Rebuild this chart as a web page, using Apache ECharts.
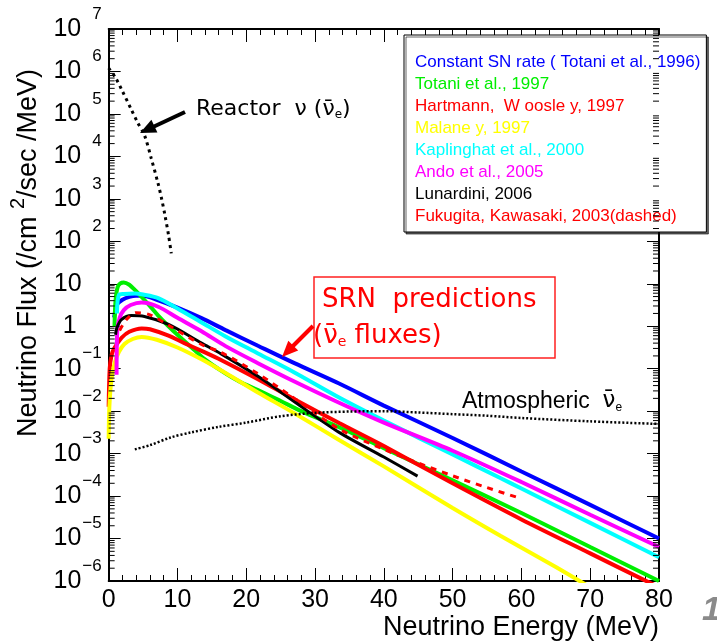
<!DOCTYPE html>
<html>
<head>
    <meta charset="UTF-8">
    <title>SRN flux</title>
    <style>
        body,
        html {
            width: 100%;
            height: 100%;
            margin: 0;
            padding: 0;
            background: #fff;
        }
        #myChart {
            width: 717px;
            height: 641px;
        }
    </style>
    <script src="https://cdn.jsdelivr.net/npm/echarts@6/dist/echarts.min.js"></script>
</head>
<body>
    <div id="myChart"></div>
    <script>

        let fontFamily = '"Liberation Sans", Arial, sans-serif';
        let dejavu = '"DejaVu Sans", sans-serif';

        // 能量 (MeV) / 通量 (/cm^2/sec/MeV)
        let constSnE = [0.8, 1.2, 2, 3, 4, 5, 7, 10, 13.5, 17, 21.7, 27, 33.5, 40, 50, 60, 70, 80];
        let constSnFlux = [1.6, 3.2, 4.2, 4.9, 5.2, 5.2, 4.2, 2.75, 1.55, 0.81, 0.347, 0.135, 0.0447, 0.0135, 2.34e-3, 3.8e-4, 6.2e-5, 1.0e-5];

        let totaniE = [0.85, 1.0, 1.3, 1.7, 2.2, 3, 3.8, 5, 6.2, 7.2, 8.7, 10, 12, 14, 16.4, 19, 21.7, 25, 28, 33.5, 40, 50, 60, 70, 80];
        let totaniFlux = [1.0, 4.0, 8.3, 10.2, 10.7, 9.5, 7.2, 4.5, 2.75, 1.78, 1.0, 0.63, 0.32, 0.166, 0.089, 0.05, 0.0316, 0.0174, 0.01, 4.17e-3, 1.35e-3, 2.34e-4, 3.98e-5, 6.3e-6, 1.0e-6];

        let hartmannE = [0, 0.15, 0.4, 0.7, 1.2, 1.9, 3, 4.8, 6, 8.7, 11, 13.5, 16.4, 21.7, 27, 33.5, 40, 50, 60, 70, 80];
        let hartmannFlux = [0.0126, 0.1, 0.2, 0.28, 0.38, 0.54, 0.74, 0.89, 0.85, 0.6, 0.4, 0.263, 0.158, 0.0562, 0.0191, 5.25e-3, 1.51e-3, 2.0e-4, 2.82e-5, 4.47e-6, 7.1e-7];

        let malaneyE = [0, 0.1, 0.4, 0.9, 1.5, 2.3, 3.5, 4.8, 7, 10, 13.5, 17, 21.7, 27, 33.5, 40, 50, 57, 65, 70];
        let malaneyFlux = [2.24e-3, 0.0126, 0.056, 0.141, 0.25, 0.38, 0.5, 0.56, 0.48, 0.316, 0.166, 0.079, 0.0275, 8.9e-3, 2.09e-3, 5.0e-4, 5.25e-5, 1.15e-5, 2.14e-6, 7.1e-7];

        let kaplinghatE = [1.2, 1.5, 2.2, 3.8, 5, 7.2, 10, 13.5, 17, 21.7, 27, 33.5, 40, 50, 57, 60, 70, 80];
        let kaplinghatFlux = [2.0, 5.5, 5.75, 5.9, 5.6, 4.6, 2.63, 1.23, 0.575, 0.229, 0.0813, 0.0209, 6.0e-3, 9.5e-4, 2.63e-4, 1.51e-4, 2.34e-5, 3.63e-6];

        let andoE = [1.15, 1.25, 1.6, 2.2, 3.2, 4.8, 7.2, 10, 13.5, 17, 21.7, 27, 33.5, 40, 50, 60, 70, 80];
        let andoFlux = [0.072, 0.79, 1.58, 2.4, 3.16, 3.63, 2.88, 1.58, 0.76, 0.34, 0.135, 0.05, 0.0158, 5.37e-3, 1.17e-3, 2.14e-4, 3.63e-5, 6.3e-6];

        let lunardiniE = [1.0, 1.2, 1.9, 3.3, 5.2, 8.7, 13.5, 16.4, 21.7, 27, 33.5, 40, 44.9];
        let lunardiniFlux = [0.63, 0.93, 1.45, 1.78, 1.7, 1.1, 0.4, 0.22, 0.066, 0.0166, 3.16e-3, 8.3e-4, 2.95e-4];

        let fukugitaE = [1.6, 2.6, 4, 6, 8.7, 13.5, 16.4, 21.7, 27, 33.5, 40, 45, 50, 55, 60];
        let fukugitaFlux = [0.79, 1.45, 2.09, 1.86, 1.05, 0.372, 0.24, 0.076, 0.02, 3.8e-3, 1.26e-3, 6.0e-4, 3.0e-4, 1.58e-4, 8.7e-5];

        let reactorE = [0, 1, 1.9, 3.3, 4.2, 5.2, 6.2, 7.2, 7.7, 8.2, 8.7, 9.1];
        let reactorFlux = [1.2e6, 7.1e5, 3.7e5, 1.26e5, 6.3e4, 3.16e4, 8.9e3, 2.24e3, 1.0e3, 398, 141, 52];

        let atmE = [3.8, 6, 9, 12, 16, 20, 25, 30, 35, 40, 45, 50, 55, 60, 70, 80];
        let atmFlux = [1.26e-3, 1.58e-3, 2.4e-3, 3.16e-3, 4.27e-3, 5.37e-3, 7.6e-3, 9.1e-3, 9.8e-3, 0.01, 9.3e-3, 8.5e-3, 7.8e-3, 6.9e-3, 5.75e-3, 5.0e-3];

        // 图例
        let legendNames = [
            'Constant SN rate ( Totani et al., 1996)',
            'Totani et al., 1997',
            'Hartmann,  W oosle y, 1997',
            'Malane y, 1997',
            'Kaplinghat et al., 2000',
            'Ando et al., 2005',
            'Lunardini, 2006',
            'Fukugita, Kawasaki, 2003(dashed)'
        ];
        let legendColors = ['#0000ff', '#00ee00', '#ff0000', '#ffff00', '#00ffff', '#ff00ff', '#000000', '#ff0000'];

        // 轴范围
        let xMin = 0, xMax = 80, xStep = 10;
        let yMin = 1e-6, yMax = 1e7;

        function pairs(xs, ys) {
            return xs.map((x, i) => [x, ys[i]]);
        }

        function curve(name, xs, ys, color, width, dash, smooth) {
            return {
                type: 'line',
                name: name,
                data: pairs(xs, ys),
                showSymbol: false,
                symbol: 'none',
                smooth: smooth,
                lineStyle: { color: color, width: width, type: dash || 'solid' },
                itemStyle: { color: color },
                z: 3
            };
        }

        // log 轴副刻度 2..9
        let minorTickVals = [];
        for (let n = -6; n < 7; n++) {
            for (let k = 2; k < 10; k++) {
                minorTickVals.push([0, k * Math.pow(10, n)]);
            }
        }

        function logLabel(v) {
            let n = Math.round(Math.log10(v));
            if (n === 0) return '{one|1}';
            if (n === 1) return '{ten|10}';
            if (n > 0) return '{b|10}{sp|' + n + '}';
            return '{b|10}{sn|\u2212' + (-n) + '}';
        }

        let myEcharts = echarts.init(document.querySelector('#myChart'));

        let axisLine = { show: true, onZero: false, lineStyle: { color: '#000', width: 2 } };

        let option = {
            animation: false,
            backgroundColor: '#fff',
            grid: { left: 107, right: 58, top: 29, bottom: 59, containLabel: false },
            legend: {
                orient: 'vertical',
                left: 404,
                top: 35,
                padding: [19, 6, 7, 5],
                itemGap: 5,
                itemWidth: 0,
                itemHeight: 0,
                itemStyle: { opacity: 0 },
                lineStyle: { opacity: 0 },
                selectedMode: false,
                backgroundColor: '#fff',
                borderColor: '#000',
                borderWidth: 1,
                shadowColor: 'rgba(0,0,0,0.6)',
                shadowOffsetX: 2,
                shadowOffsetY: 2,
                textStyle: { fontSize: 17, lineHeight: 16.5, fontFamily: fontFamily },
                data: legendNames.map((n, i) => ({ name: n, textStyle: { color: legendColors[i] } }))
            },
            xAxis: [{
                type: 'value',
                min: xMin,
                max: xMax,
                interval: xStep,
                name: 'Neutrino Energy (MeV)',
                nameLocation: 'end',
                nameGap: 0,
                nameTextStyle: {
                    fontSize: 27, fontFamily: fontFamily, color: '#000',
                    align: 'right', verticalAlign: 'top', padding: [33, 0, 0, 0]
                },
                axisLine: axisLine,
                axisTick: { inside: true, length: 13, lineStyle: { color: '#000', width: 1 } },
                minorTick: { show: true, splitNumber: 5, length: 6, lineStyle: { color: '#000', width: 1 } },
                axisLabel: { fontSize: 25, fontFamily: fontFamily, color: '#000', margin: 7 },
                splitLine: { show: false }
            }, {
                type: 'value',
                position: 'top',
                min: xMin,
                max: xMax,
                interval: xStep,
                axisLine: axisLine,
                axisTick: { inside: true, length: 13, lineStyle: { color: '#000', width: 1 } },
                minorTick: { show: true, splitNumber: 5, length: 6, lineStyle: { color: '#000', width: 1 } },
                axisLabel: { show: false },
                splitLine: { show: false }
            }],
            yAxis: [{
                type: 'log',
                logBase: 10,
                min: yMin,
                max: yMax,
                interval: 1,
                name: '{a|Neutrino Flux (/cm }{s|2}{a|/sec /MeV)}',
                nameLocation: 'middle',
                nameRotate: 90,
                nameGap: 50,
                nameTextStyle: {
                    padding: [0, 0, 0, 104],
                    rich: {
                        a: { fontSize: 27, fontFamily: fontFamily, color: '#000' },
                        s: { fontSize: 20, fontFamily: fontFamily, color: '#000', padding: [0, 0, 22, 0] }
                    }
                },
                axisLine: axisLine,
                axisTick: { inside: true, length: 12, lineStyle: { color: '#000', width: 1 } },
                axisLabel: {
                    margin: 7,
                    formatter: logLabel,
                    rich: {
                        one: { fontSize: 25, fontFamily: fontFamily, color: '#000', padding: [0, 25, 0, 0] },
                        ten: { fontSize: 25, fontFamily: fontFamily, color: '#000', padding: [0, 20, 0, 0] },
                        b: { fontSize: 25, fontFamily: fontFamily, color: '#000' },
                        sp: { fontSize: 17, fontFamily: fontFamily, color: '#000', padding: [0, 0, 30, 11] },
                        sn: { fontSize: 17, fontFamily: fontFamily, color: '#000', padding: [0, 0, 30, 1] }
                    }
                },
                splitLine: { show: false }
            }, {
                type: 'log',
                logBase: 10,
                position: 'right',
                min: yMin,
                max: yMax,
                interval: 1,
                axisLine: axisLine,
                axisTick: { inside: true, length: 12, lineStyle: { color: '#000', width: 1 } },
                axisLabel: { show: false },
                splitLine: { show: false }
            }],
            series: [
                curve(legendNames[0], constSnE, constSnFlux, legendColors[0], 4, null, 0.3),
                curve(legendNames[1], totaniE, totaniFlux, legendColors[1], 4, null, 0.3),
                curve(legendNames[2], hartmannE, hartmannFlux, legendColors[2], 4, null, 0.3),
                curve(legendNames[3], malaneyE, malaneyFlux, legendColors[3], 4, null, 0.3),
                curve(legendNames[4], kaplinghatE, kaplinghatFlux, legendColors[4], 4, null, 0.3),
                curve(legendNames[5], andoE, andoFlux, legendColors[5], 4, null, 0.3),
                curve(legendNames[6], lunardiniE, lunardiniFlux, legendColors[6], 3, null, 0.3),
                curve(legendNames[7], fukugitaE, fukugitaFlux, legendColors[7], 3, [6, 6], 0.3),
                curve('Reactor', reactorE, reactorFlux, '#000', 3, [3, 4], 0.3),
                curve('Atmospheric', atmE, atmFlux, '#000', 2.5, [2, 2], 0.3),
                {
                    // 左右两侧 log 副刻度
                    type: 'custom',
                    name: 'minorTicks',
                    silent: true,
                    data: minorTickVals,
                    renderItem: function (params, api) {
                        let v = api.value(1);
                        let l = api.coord([xMin, v]);
                        let r = api.coord([xMax, v]);
                        return {
                            type: 'group',
                            children: [
                                { type: 'line', shape: { x1: l[0], y1: l[1], x2: l[0] + 6, y2: l[1] }, style: { stroke: '#000', lineWidth: 1 } },
                                { type: 'line', shape: { x1: r[0], y1: r[1], x2: r[0] - 6, y2: r[1] }, style: { stroke: '#000', lineWidth: 1 } }
                            ]
                        };
                    },
                    z: 4
                }
            ],
            graphic: [
                // 反应堆
                {
                    type: 'text', left: 196, top: 98, z: 10,
                    style: {
                        text: '{a|Reactor  \u03bd (}{n|\u03bd\u0304}{e|e}{a|)}',
                        rich: {
                            a: { fontSize: 22, fontFamily: dejavu, fill: '#000' },
                            n: { fontSize: 22, fontFamily: dejavu, fill: '#000' },
                            e: { fontSize: 12, fontFamily: dejavu, fill: '#000', padding: [12, 0, 0, 0] }
                        }
                    }
                },
                { type: 'line', z: 10, shape: { x1: 185, y1: 112, x2: 153, y2: 127 }, style: { stroke: '#000', lineWidth: 4 } },
                { type: 'polygon', z: 10, shape: { points: [[140, 133], [157.4, 132.4], [151.4, 119.8]] }, style: { fill: '#000' } },
                // SRN 注释框
                { type: 'rect', z: 10, shape: { x: 314, y: 277, width: 241, height: 81 }, style: { fill: 'rgba(0,0,0,0)', stroke: '#ff2020', lineWidth: 1.5 } },
                {
                    type: 'text', left: 322, top: 287, z: 10,
                    style: { text: 'SRN  predictions', fontSize: 26, fontFamily: dejavu, fill: '#ff0000' }
                },
                {
                    type: 'text', left: 313, top: 323, z: 10,
                    style: {
                        text: '{a|(}{n|\u03bd\u0304}{e|e}{a| fluxes)}',
                        rich: {
                            a: { fontSize: 26, fontFamily: dejavu, fill: '#ff0000' },
                            n: { fontSize: 26, fontFamily: dejavu, fill: '#ff0000' },
                            e: { fontSize: 14, fontFamily: dejavu, fill: '#ff0000', padding: [13, 0, 0, 0] }
                        }
                    }
                },
                { type: 'line', z: 10, shape: { x1: 313, y1: 326, x2: 292, y2: 347 }, style: { stroke: '#ff0000', lineWidth: 4 } },
                { type: 'polygon', z: 10, shape: { points: [[282, 357], [298.2, 350.6], [288.3, 340.7]] }, style: { fill: '#ff0000' } },
                // 大气中微子
                {
                    type: 'text', left: 462, top: 390, z: 10,
                    style: {
                        text: '{a|Atmospheric  }{n|\u03bd\u0304}{e|e}',
                        rich: {
                            a: { fontSize: 23, fontFamily: fontFamily, fill: '#000' },
                            n: { fontSize: 23, fontFamily: dejavu, fill: '#000' },
                            e: { fontSize: 12, fontFamily: fontFamily, fill: '#000', padding: [12, 0, 0, 0] }
                        }
                    }
                },
                // 页码
                {
                    type: 'text', left: 702, top: 594, z: 10,
                    style: { text: '1', fontSize: 34, fontStyle: 'italic', fontWeight: 'bold', fontFamily: fontFamily, fill: '#8a8a8a' }
                }
            ]
        };
        myEcharts.setOption(option, true);

    </script>
</body>
</html>
